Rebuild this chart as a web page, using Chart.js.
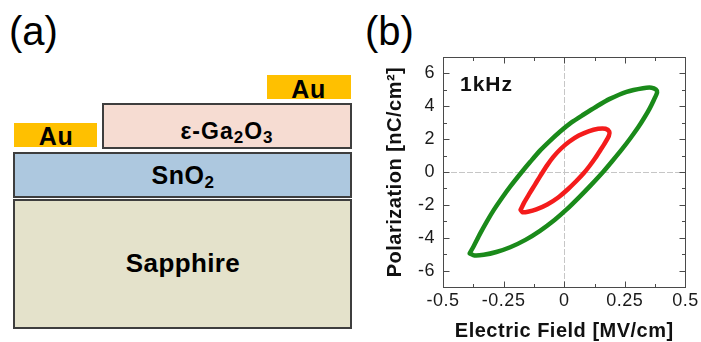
<!DOCTYPE html>
<html>
<head>
<meta charset="utf-8">
<script src="https://cdn.jsdelivr.net/npm/chart.js@4.4.1/dist/chart.umd.min.js"></script>
<style>
  html, body { margin: 0; padding: 0; background: #fff; }
  body { width: 701px; height: 342px; position: relative; overflow: hidden;
         font-family: 'Liberation Sans', Arial, sans-serif; }
  .panel { position: absolute; line-height: 1; font-size: 40px; color: #000; }
  .box { position: absolute; box-sizing: border-box; }
  .layer { border: 2px solid #3e3e3e; }
  .au { background: #FFC000; }
  .t { position: absolute; line-height: 1; font-weight: bold; white-space: nowrap;
       transform: translateX(-50%); color: #000; }
  .t sub { font-size: 17px; line-height: 0; vertical-align: -4px; }
  #wrap { position: absolute; left: 360px; top: 0; width: 341px; height: 342px; }
</style>
</head>
<body>
<!-- panel labels -->
<div class="panel" style="left:9px;top:10.6px;">(a)</div>
<div class="panel" style="left:365px;top:10.6px;">(b)</div>

<!-- device stack: sapphire / SnO2 / ε-Ga2O3 with Au contacts -->
<div class="box layer" style="left:13.3px;top:199.3px;width:338.7px;height:129.4px;background:#E4E2CB"></div>
<div class="box layer" style="left:13.3px;top:151.7px;width:338.7px;height:46px;background:#ADC8DF"></div>
<div class="box layer" style="left:101.7px;top:102.7px;width:250.6px;height:46.3px;background:#F6DCD2"></div>
<div class="box au" style="left:14.3px;top:123.3px;width:83px;height:24px"></div>
<div class="box au" style="left:266.7px;top:75px;width:84px;height:24.3px"></div>

<div class="t" style="left:308.5px;top:76.6px;font-size:25px;letter-spacing:0.5px">Au</div>
<div class="t" style="left:56px;top:124px;font-size:25px;letter-spacing:0.5px">Au</div>
<div class="t" style="left:227px;top:119.5px;font-size:23px;letter-spacing:1px">ε-Ga<sub>2</sub>O<sub>3</sub></div>
<div class="t" style="left:183px;top:162.5px;font-size:25px;letter-spacing:0.5px">SnO<sub>2</sub></div>
<div class="t" style="left:183px;top:249.8px;font-size:26px;letter-spacing:0.4px">Sapphire</div>

<div id="wrap"><canvas id="pe" width="341" height="342"></canvas></div>

<script>
// P–E hysteresis loops measured at 1 kHz (field in MV/cm, polarization in nC/cm²)
const outerLoopE = [-0.390, -0.373, -0.347, -0.320, -0.291, -0.257, -0.223, -0.175, -0.140, -0.100,
                    -0.060, -0.018, 0.030, 0.080, 0.130, 0.188, 0.257, 0.325, 0.360, 0.378,
                    0.383, 0.370, 0.352, 0.330, 0.305, 0.275, 0.240, 0.200, 0.160, 0.110,
                    0.060, 0.010, -0.040, -0.100, -0.160, -0.223, -0.280, -0.332, -0.370, -0.390];
const outerLoopP = [-4.95, -4.50, -3.75, -3.03, -2.32, -1.58, -0.89, 0.00, 0.62, 1.30,
                    1.88, 2.45, 3.02, 3.50, 3.96, 4.45, 4.88, 5.10, 5.13, 5.02,
                    4.85, 4.40, 3.86, 3.30, 2.72, 2.10, 1.42, 0.70, 0.00, -0.80,
                    -1.56, -2.28, -2.92, -3.58, -4.13, -4.58, -4.87, -5.04, -5.08, -4.95];
const innerLoopE = [-0.180, -0.165, -0.145, -0.120, -0.095, -0.070, -0.045, -0.015, 0.020, 0.060,
                    0.100, 0.140, 0.170, 0.186, 0.184, 0.170, 0.150, 0.128, 0.105, 0.080,
                    0.050, 0.015, -0.025, -0.070, -0.115, -0.150, -0.172, -0.180];
const innerLoopP = [-2.30, -1.85, -1.35, -0.75, -0.15, 0.42, 0.92, 1.40, 1.84, 2.22,
                    2.48, 2.63, 2.63, 2.45, 2.20, 1.82, 1.35, 0.85, 0.38, -0.08,
                    -0.55, -1.05, -1.55, -1.98, -2.28, -2.42, -2.45, -2.30];

const xRange = [-0.5, 0.5];
const yRange = [-7, 7];
const xTicks = [-0.5, -0.25, 0, 0.25, 0.5];
const xTickLabels = ['-0.5', '-0.25', '0', '0.25', '0.5'];
const yTicks = [-6, -4, -2, 0, 2, 4, 6];
const yTickLabels = ['-6', '-4', '-2', '0', '2', '4', '6'];
const xTitle = 'Electric Field [MV/cm]';
const yTitle = 'Polarization [nC/cm²]';
const freqLabel = '1kHz';

const FONT = "'Liberation Sans', Arial, sans-serif";
Chart.defaults.font.family = FONT;

const toPoints = (es, ps) => es.map((e, i) => ({ x: e, y: ps[i] }));

// midpoints between neighbouring values get short minor ticks
const minorsOf = (arr) => arr.slice(1).map((v, i) => (v + arr[i]) / 2);

const frameAndTicks = {
  id: 'frameAndTicks',
  beforeDraw(chart) {
    chart.ctx.letterSpacing = '0.5px';
  },
  beforeDatasetsDraw(chart) {
    const { ctx, chartArea: a, scales: { x, y } } = chart;
    ctx.save();
    ctx.strokeStyle = '#c6c6c6';
    ctx.lineWidth = 1;
    ctx.setLineDash([6, 2]);
    const x0 = Math.round(x.getPixelForValue(0)) + 0.5;
    const y0 = Math.round(y.getPixelForValue(0)) + 0.5;
    ctx.beginPath();
    ctx.moveTo(x0, a.top); ctx.lineTo(x0, a.bottom);
    ctx.moveTo(a.left, y0); ctx.lineTo(a.right, y0);
    ctx.stroke();
    ctx.restore();
  },
  afterDatasetsDraw(chart) {
    const { ctx, chartArea: a, scales: { x, y } } = chart;
    const L = Math.round(a.left) + 0.5, R = Math.round(a.right) + 0.5;
    const T = Math.round(a.top) + 0.5, B = Math.round(a.bottom) + 0.5;
    ctx.save();
    ctx.strokeStyle = '#4a4a4a';
    ctx.lineWidth = 1;
    ctx.strokeRect(L, T, R - L, B - T);
    ctx.beginPath();
    const xt = (v, len) => {
      const px = Math.round(x.getPixelForValue(v)) + 0.5;
      ctx.moveTo(px, B); ctx.lineTo(px, B - len);
      ctx.moveTo(px, T); ctx.lineTo(px, T + len);
    };
    const yt = (v, len) => {
      const py = Math.round(y.getPixelForValue(v)) + 0.5;
      ctx.moveTo(L, py); ctx.lineTo(L + len, py);
      ctx.moveTo(R, py); ctx.lineTo(R - len, py);
    };
    xTicks.forEach(v => xt(v, 6));
    minorsOf(xTicks).forEach(v => xt(v, 3.5));
    yTicks.forEach(v => yt(v, 6));
    minorsOf([yRange[0] - 1, ...yTicks, yRange[1] + 1]).forEach(v => {
      if (v > yRange[0] && v < yRange[1]) yt(v, 3.5);
    });
    ctx.stroke();

    ctx.fillStyle = '#111';
    ctx.font = 'bold 21px ' + FONT;
    ctx.letterSpacing = '1px';
    ctx.textAlign = 'left';
    ctx.textBaseline = 'middle';
    ctx.fillText(freqLabel, a.left + 17, a.top + 28);
    ctx.restore();
  }
};

new Chart(document.getElementById('pe'), {
  type: 'scatter',
  data: {
    datasets: [
      { data: toPoints(outerLoopE, outerLoopP), showLine: true, borderColor: '#1a8a1a', backgroundColor: '#1a8a1a' },
      { data: toPoints(innerLoopE, innerLoopP), showLine: true, borderColor: '#f41c1c', backgroundColor: '#f41c1c' }
    ]
  },
  options: {
    responsive: false,
    devicePixelRatio: 1,
    animation: false,
    events: [],
    layout: { padding: { left: 0, right: 14, top: 57, bottom: 0 } },
    plugins: { legend: { display: false }, tooltip: { enabled: false } },
    elements: {
      point: { radius: 0 },
      line: { borderWidth: 4.5, tension: 0.25, borderCapStyle: 'round', borderJoinStyle: 'round' }
    },
    scales: {
      x: {
        type: 'linear', min: xRange[0], max: xRange[1],
        grid: { display: false, drawTicks: false },
        border: { display: false },
        afterBuildTicks: s => { s.ticks = xTicks.map(v => ({ value: v })); },
        afterFit: s => { s.height = 55; },
        ticks: { autoSkip: false, maxRotation: 0, minRotation: 0, padding: 3, color: '#1a1a1a',
                 font: { size: 18 }, callback: (v, i) => xTickLabels[i] },
        title: { display: true, text: xTitle, color: '#111',
                 font: { size: 20, weight: 'bold', lineHeight: 1 }, padding: { top: 0, bottom: 0.5 } }
      },
      y: {
        type: 'linear', min: yRange[0], max: yRange[1],
        grid: { display: false, drawTicks: false },
        border: { display: false },
        afterBuildTicks: s => { s.ticks = yTicks.map(v => ({ value: v })); },
        afterFit: s => { s.width = 83; },
        ticks: { autoSkip: false, padding: 8, color: '#1a1a1a',
                 font: { size: 18 }, callback: (v, i) => yTickLabels[i] },
        title: { display: true, text: yTitle, color: '#111',
                 font: { size: 20, weight: 'bold', lineHeight: 1 }, padding: { top: 25, bottom: 0 } }
      }
    }
  },
  plugins: [frameAndTicks]
});
</script>
</body>
</html>
